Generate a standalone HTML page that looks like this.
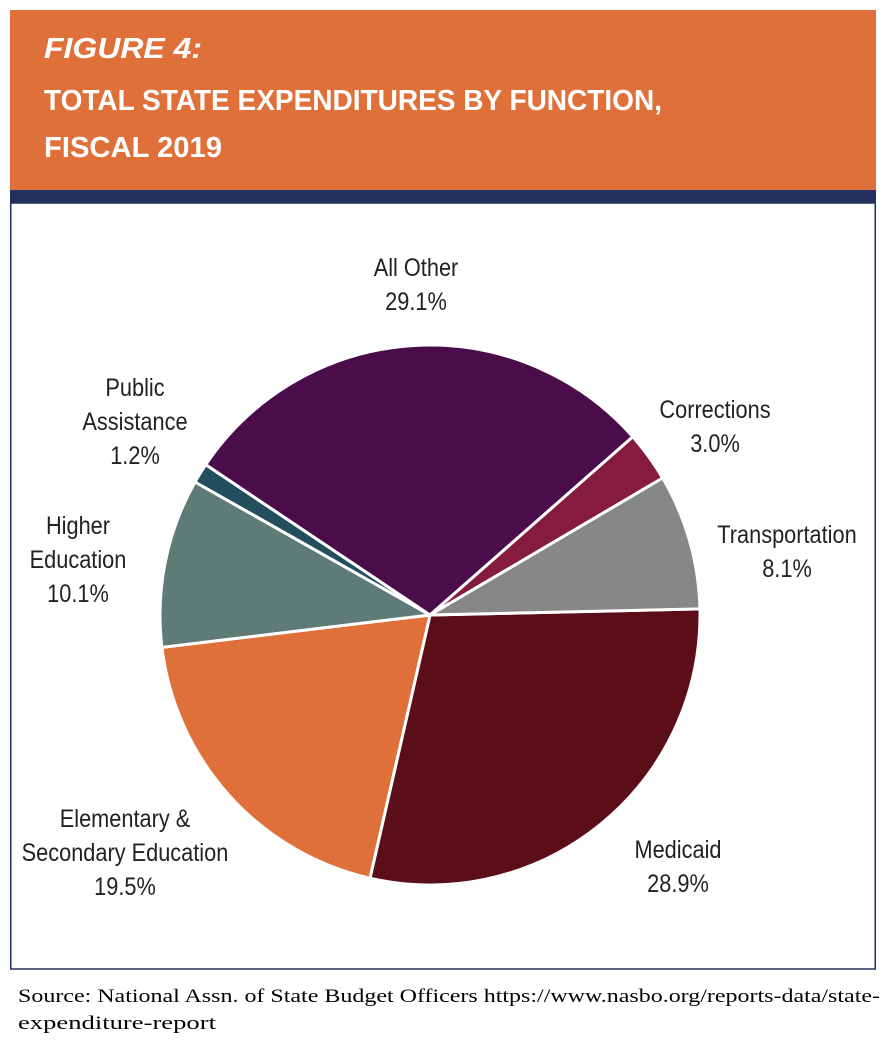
<!DOCTYPE html>
<html><head><meta charset="utf-8"><style>
html,body{margin:0;padding:0;background:#fff;width:896px;height:1048px;overflow:hidden}
svg text{font-family:"Liberation Sans",sans-serif}
</style></head><body>
<svg width="896" height="1048" viewBox="0 0 896 1048">
<rect x="10" y="10" width="866" height="180" fill="#E0703A"/>
<text x="44" y="58" fill="#fff" font-size="29" font-weight="bold" font-style="italic" textLength="158" lengthAdjust="spacingAndGlyphs">FIGURE 4:</text>
<text x="44" y="110" fill="#fff" font-size="29" font-weight="bold" textLength="618" lengthAdjust="spacingAndGlyphs">TOTAL STATE EXPENDITURES BY FUNCTION,</text>
<text x="44" y="157" fill="#fff" font-size="29" font-weight="bold" textLength="178" lengthAdjust="spacingAndGlyphs">FISCAL 2019</text>
<rect x="10" y="190" width="866" height="13" fill="#232F5E"/>
<rect x="10.75" y="203" width="864.5" height="766" fill="none" stroke="#232F5E" stroke-width="1.5"/>
<g id="pie"></g>
<g id="labels"></g>
<text x="18" y="1002" style="font-family:'Liberation Serif',serif" font-size="19" textLength="862" lengthAdjust="spacingAndGlyphs">Source: National Assn. of State Budget Officers https://www.nasbo.org/reports-data/state-</text>
<text x="18" y="1029" style="font-family:'Liberation Serif',serif" font-size="19" textLength="198" lengthAdjust="spacingAndGlyphs">expenditure-report</text>
</svg>
<script>
const categories = ["Medicaid","Elementary & Secondary Education","Higher Education","Public Assistance","All Other","Corrections","Transportation"];
const values = [28.9,19.5,10.1,1.2,29.1,3.0,8.1];
const valueLabels = ["28.9%","19.5%","10.1%","1.2%","29.1%","3.0%","8.1%"];
const labelLines = [["Medicaid"],["Elementary &","Secondary Education"],["Higher","Education"],["Public","Assistance"],["All Other"],["Corrections"],["Transportation"]];
const colors = ["#5B0E17","#E0703A","#5F7B76","#234E5E","#4A0C4A","#851B3E","#878787"];
const labelPos = [[678,858],[125,827],[78,534],[135,396],[416,276],[715,418],[787,543]];
const ns="http://www.w3.org/2000/svg";
const cx=430, cy=615, r=270, start=-1.3;
const total=values.reduce((a,b)=>a+b,0);
const pie=document.getElementById('pie');
const lab=document.getElementById('labels');
let a=start;
function pt(deg){const t=deg*Math.PI/180;return [cx+r*Math.cos(t),cy+r*Math.sin(t)];}
values.forEach((v,i)=>{
  const sweep=v/total*360;
  const p0=pt(a), p1=pt(a+sweep);
  const path=document.createElementNS(ns,'path');
  path.setAttribute('d',`M${cx},${cy} L${p0[0]},${p0[1]} A${r},${r} 0 ${sweep>180?1:0} 1 ${p1[0]},${p1[1]} Z`);
  path.setAttribute('fill',colors[i]);
  path.setAttribute('stroke','#fff');
  path.setAttribute('stroke-width','3');
  path.setAttribute('stroke-linejoin','round');
  
  
  pie.appendChild(path);
  a+=sweep;
  const lines=labelLines[i].concat([valueLabels[i]]);
  const [lx,ly]=labelPos[i];
  lines.forEach((s,k)=>{
    const t=document.createElementNS(ns,'text');
    t.setAttribute('x',lx); t.setAttribute('y',ly+k*34);
    t.setAttribute('text-anchor','middle');
    t.setAttribute('font-size','25');
    t.setAttribute('fill','#222');
    t.setAttribute('transform',`translate(${lx},0) scale(0.87,1) translate(${-lx},0)`);
    t.textContent=s;
    
    
    lab.appendChild(t);
  });
});
</script>
</body></html>
